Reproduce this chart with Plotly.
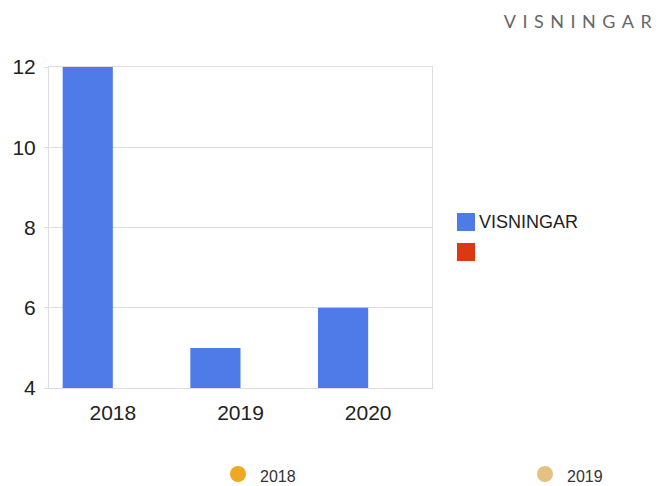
import plotly.graph_objects as go

categories = ["2018", "2019", "2020"]
visningar = [12, 5, 6]
second_series = [None, None, None]
series_names = ["VISNINGAR", ""]
bottom_labels = ["2018", "2019"]

BLUE = "#4f7be8"
RED = "#dc3912"
ORANGE = "#f0a820"
TAN = "#e3c283"
FONT = "Liberation Sans, Arial, sans-serif"

L, T, PW, PH = 49, 67, 383, 321  # plot area in pixels

def px(x):
    return (x - L) / PW

def py(y):
    return (T + PH - y) / PH

fig = go.Figure()
fig.add_trace(go.Bar(x=categories, y=visningar, name=series_names[0],
                     marker=dict(color=BLUE, line=dict(width=0))))
fig.add_trace(go.Bar(x=categories, y=second_series, name=series_names[1],
                     marker=dict(color=RED, line=dict(width=0))))

fig.update_layout(
    width=660, height=486,
    margin=dict(l=L, r=660 - L - PW, t=T, b=486 - T - PH),
    paper_bgcolor="white", plot_bgcolor="white",
    barmode="group", bargap=0.214, bargroupgap=0,
    showlegend=False,
    font=dict(family=FONT, size=20, color="#222222"),
    xaxis=dict(showgrid=False, showline=True, mirror=True, linecolor="#dddddd",
               linewidth=1, ticks="", ticklabelstandoff=6,
               tickfont=dict(size=21, color="#222222")),
    yaxis=dict(range=[4, 12], dtick=2, showgrid=True, gridcolor="#dddddd",
               gridwidth=1, showline=True, mirror=True, linecolor="#dddddd",
               linewidth=1, zeroline=False, ticks="outside", ticklen=4,
               tickcolor="#dddddd", ticklabelstandoff=4,
               tickfont=dict(size=21, color="#222222")),
)

# Right legend (manual)
legend_colors = [BLUE, RED]
for i, (name, col) in enumerate(zip(series_names, legend_colors)):
    y0 = 213 + i * 30
    fig.add_shape(type="rect", xref="paper", yref="paper",
                  x0=px(457), x1=px(475), y0=py(y0 + 18), y1=py(y0),
                  fillcolor=col, line=dict(width=0))
    if name:
        fig.add_annotation(xref="paper", yref="paper", x=px(477), y=py(y0 + 9),
                           text=name, showarrow=False,
                           xanchor="left", yanchor="middle",
                           font=dict(family=FONT, size=18, color="#222222"))

# Bottom legend (manual)
bottom_colors = [ORANGE, TAN]
bottom_x = [238, 545]
for lab, col, cx in zip(bottom_labels, bottom_colors, bottom_x):
    cy = 474
    fig.add_shape(type="circle", xref="paper", yref="paper",
                  x0=px(cx - 8), x1=px(cx + 8), y0=py(cy + 8), y1=py(cy - 8),
                  fillcolor=col, line=dict(width=0))
    fig.add_annotation(xref="paper", yref="paper", x=px(cx + 20), y=py(cy + 2),
                       text=lab, showarrow=False,
                       xanchor="left", yanchor="middle",
                       font=dict(family=FONT, size=16, color="#333333"))

# Title top right
fig.add_annotation(xref="paper", yref="paper", x=px(581), y=py(21),
                   text="VISNINGAR", showarrow=False,
                   xanchor="center", yanchor="middle",
                   font=dict(family="Lato, sans-serif", size=18, color="#666666"))

post = """
document.body.style.margin = '0';
function spaceTitle(){
  document.querySelectorAll('.annotation').forEach(function(a){
    if (a.getAttribute('data-index') === '3') {
      var t = a.querySelector('.annotation-text');
      if (t) { t.style.letterSpacing = '6.5px'; }
    }
  });
}
spaceTitle();
setTimeout(spaceTitle, 50);
"""
fig.write_html("out.html", post_script=post, config={"displayModeBar": False})
